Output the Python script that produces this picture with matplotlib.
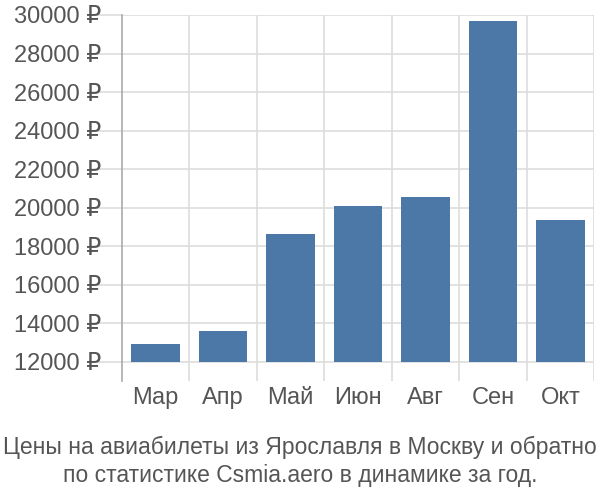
import matplotlib
matplotlib.use("Agg")
import matplotlib.pyplot as plt
import numpy as np

plt.rcParams['font.family'] = ['Liberation Sans', 'DejaVu Sans']

months = ['Мар', 'Апр', 'Май', 'Июн', 'Авг', 'Сен', 'Окт']
prices = [12930, 13610, 18640, 20090, 20560, 29680, 19350]
yticks = list(range(12000, 30001, 2000))
title = 'Цены на авиабилеты из Ярославля в Москву и обратно\nпо статистике Csmia.aero в динамике за год.'

grid_c = '#dddddd'
text_c = '#555555'

fig = plt.figure(figsize=(6, 5), dpi=100)
ax = fig.add_axes([0.203, 0.238, 0.787, 0.732])

x = np.arange(len(months))
base = 12000
ax.bar(x, [p - base for p in prices], bottom=base, width=0.72, color='#4c78a8', zorder=3)

ax.set_xlim(-0.5, len(months) - 0.5)
ax.set_ylim(11000, 30000)

# horizontal grid, extended left as tick marks
ax.set_yticks(yticks)
ax.set_yticklabels([f'{v} ₽' for v in yticks])
ax.yaxis.grid(True, color=grid_c, linewidth=1.2, zorder=0)
ax.tick_params(axis='y', length=22, color=grid_c, width=1.2, labelsize=17, labelcolor=text_c, pad=-7)

# vertical grid between categories
for b in np.arange(-0.5, len(months), 1.0)[1:]:
    ax.axvline(b, color=grid_c, linewidth=1.2, zorder=0)

ax.set_xticks(x)
ax.set_xticklabels(months)
ax.tick_params(axis='x', length=0, labelsize=17, labelcolor=text_c, pad=4)

for s in ['top', 'right', 'bottom']:
    ax.spines[s].set_visible(False)
ax.spines['left'].set_color('#aaaaaa')
ax.spines['left'].set_linewidth(1.2)

fig.text(0.5, 0.026, title, ha='center', va='bottom', fontsize=16.5, color=text_c, linespacing=1.27)

fig.savefig('out.png', dpi=100)
